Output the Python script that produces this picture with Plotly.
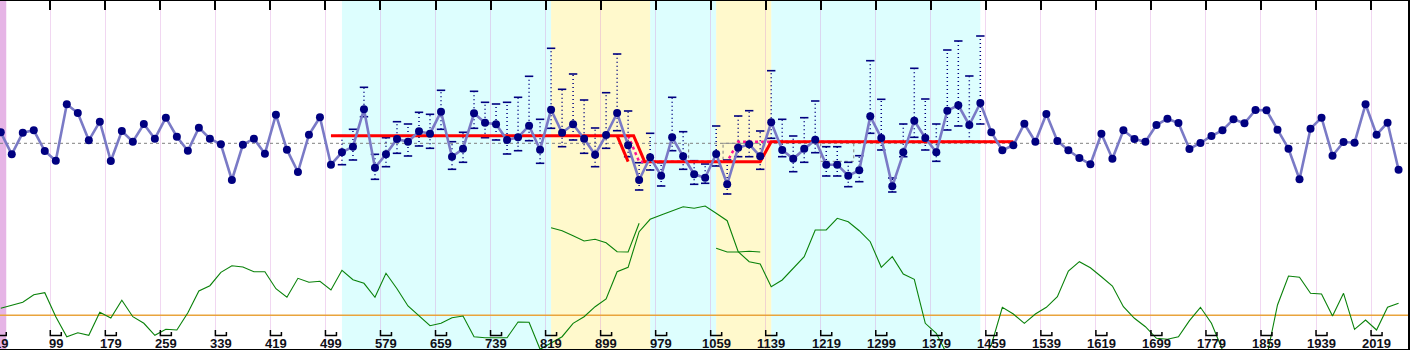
import plotly.graph_objects as go

# 16-year bins: centre of each bin
years = list(range(27, 2060, 16))

# main series (anomaly per bin)
values = [
    1.10, -1.10, 1.06, 1.30, -0.77, -1.74, 3.90, 3.03, 0.30, 2.16,
    -1.77, 1.23, 0.16, 1.93, 0.46, 2.56, 0.66, -0.74, 1.56, 0.46,
    -0.10, -3.67, -0.14, 0.46, -1.04, 2.86, -0.64, -2.87, 0.86, 2.60,
    -2.14, -0.90, -0.34, 3.40, -2.44, -1.10, 0.43, 0.16, 1.20, 0.96,
    3.16, -1.34, -0.54, 3.00, 2.06, 1.90, 0.33, 0.60, 1.76, -0.64,
    3.36, 1.06, 1.90, 0.46, -1.14, 0.83, 3.03, -0.20, -3.67, -1.40,
    -3.24, 0.60, -1.30, -3.10, -3.44, -1.07, -4.10, -0.44, -0.10, -1.30,
    2.10, -0.67, -1.54, -0.54, 0.36, -2.14, -2.14, -3.24, -2.70, 2.70,
    0.53, -4.30, -0.90, 2.26, 0.53, -0.90, 3.26, 3.80, 1.83, 4.03,
    1.10, -0.70, -0.20, 1.96, 0.16, 2.93, 0.23, -0.70, -1.47, -2.10,
    0.96, -1.54, 1.30, 0.43, 0.16, 1.83, 2.46, 2.03, -0.57, 0.03,
    0.73, 1.30, 2.40, 2.00, 3.33, 3.30, 1.36, -0.54, -3.60, 1.46,
    2.56, -1.24, 0.13, 0.06, 3.90, 0.86, 2.06, -2.64,
]

# spread of the bins inside the analysed window (bins 32..90)
err_years = years[31:90]
err_hi = [
    0.76, 1.40, 5.60, -1.10, 0.56, 2.16, 1.93, 3.10, 2.90, 5.30,
    0.16, 1.10, 5.20, 4.10, 3.93, 4.10, 4.60, 6.70, 2.40, 9.50,
    5.40, 6.93, 4.33, 1.53, 5.06, 8.93, 3.23, -1.94, 1.00, -1.94,
    4.60, 1.16, -1.74, -2.07, 1.73, -1.67, 2.73, 3.26, 1.23, 7.26,
    2.40, 0.73, 2.56, 4.23, -0.34, -0.34, -1.90, -1.24, 8.26, 4.40,
    -3.47, 1.93, 7.50, 4.43, 1.93, 9.33, 10.23, 6.73, 10.73,
]
err_lo = [
    -2.14, -1.67, 2.66, -3.60, -2.34, -1.00, -1.27, -0.27, -0.50, 1.40,
    -2.60, -1.90, 1.50, 0.56, 0.33, -1.07, -0.74, 0.26, -2.00, 1.50,
    -0.34, 0.33, -1.00, -2.34, -0.50, 1.26, -1.34, -4.67, -2.67, -4.27,
    -0.74, -2.60, -4.10, -4.00, -2.27, -5.07, -1.34, -1.34, -2.60, 0.50,
    -1.34, -2.84, -1.90, -0.94, -3.27, -3.27, -4.34, -3.84, 1.00, -0.67,
    -4.87, -1.34, 0.60, -0.67, -1.80, 1.33, 1.73, 0.20, 1.93,
]

# regime means
regime_x = [507, 947, 963, 1131, 1147, 1499]
regime_y = [0.76, 0.76, -1.84, -1.84, 0.16, 0.16]
shift_x = [923, 939]
shift_y = [0.76, -1.84]
trend_x = [939, 955, 1083, 1099, 1499]
trend_y = [0.76, -1.84, -1.84, 0.16, 0.16]

# test windows
box_a_x = [1027, 1027, 1077, 1077]
box_b_x = [1219, 1219, 1267, 1267]
box_y = [0.0, -1.80, -1.80, 0.0]

# index curve (lower panel)
index_main = [
    0.70, 1.00, 1.30, 2.06, 2.26, -0.14, -2.14, -1.74, -2.00, 0.30,
    -0.27, 1.50, -0.14, -0.80, -2.00, -1.40, -1.47, 0.26, 2.43, 2.96,
    4.30, 4.96, 4.83, 4.36, 4.36, 2.66, 1.80, 3.70, 3.30, 3.40,
    2.53, 4.50, 3.56, 3.20, 1.80, 4.20, 2.66, 0.93, -0.07, -1.04,
    -0.80, -0.24, -0.07, -2.14, -2.24, -2.27, -2.24, -0.67, -0.70, -3.40,
    -2.74, -2.14, -0.80, -0.14, 0.86, 1.63, 4.36, 4.80, 8.36, 9.60,
    10.03, 10.46, 10.86, 10.70, 10.93, 10.20, 9.46, 6.36, 5.36, 5.13,
    2.86, 3.53, 4.70, 5.86, 8.53, 8.53, 9.70, 9.36, 8.46, 7.36,
    4.80, 5.86, 4.13, 3.60, -0.80, -1.80, -3.97, -4.97, -5.47, -4.67,
    -2.97, 0.80, 0.13, -0.80, 0.13, 0.80, 1.86, 4.43, 5.36, 4.76,
    3.86, 2.93, 0.86, -0.30, -1.14, -2.30, -2.40, -2.14, -0.54, 0.80,
    -0.80, -3.47, -4.67, -5.47, -5.27, -4.27, 1.03, 3.93, 3.80, 2.20,
    2.13, -0.07, 2.20, -1.40, -0.47, -1.47, 0.80, 1.20,
]
index_alt1 = [8.76, 8.46, 7.96, 7.43, 7.60, 7.26, 6.36, 6.33, 9.20]
index_alt1_years = years[50:59]
index_alt2 = [6.70, 6.33, 6.33, 6.40, 6.33]
index_alt2_years = years[65:70]

tick_years = list(range(19, 2020, 80))
tick_labels = [str(t) for t in tick_years]

cyan_spans = [(523, 827), (971, 1067), (1147, 1451)]
yellow_spans = [(827, 971), (1067, 1147)]

PX_PER_YEAR = 0.6879
X0 = 25.9
PLOT_W = 1409
x_range = [X0, X0 + PLOT_W / PX_PER_YEAR]

fig = go.Figure()

# lower panel: zero line and index curves
fig.add_trace(go.Scatter(x=x_range, y=[0, 0], yaxis="y2", mode="lines",
                         line=dict(color="#e9a43c", width=1.5), hoverinfo="skip"))
fig.add_trace(go.Scatter(x=years, y=index_main, yaxis="y2", mode="lines",
                         line=dict(color="#0a820a", width=1.1), hoverinfo="skip"))
fig.add_trace(go.Scatter(x=index_alt1_years, y=index_alt1, yaxis="y2", mode="lines",
                         line=dict(color="#0a820a", width=1.1), hoverinfo="skip"))
fig.add_trace(go.Scatter(x=index_alt2_years, y=index_alt2, yaxis="y2", mode="lines",
                         line=dict(color="#0a820a", width=1.1), hoverinfo="skip"))

# long-term mean
fig.add_trace(go.Scatter(x=x_range, y=[0, 0], mode="lines",
                         line=dict(color="#808080", width=1, dash="3px,3px"), hoverinfo="skip"))
fig.add_trace(go.Scatter(x=box_a_x, y=box_y, mode="lines",
                         line=dict(color="#808080", width=1, dash="3px,3px"), hoverinfo="skip"))
fig.add_trace(go.Scatter(x=box_b_x, y=box_y, mode="lines",
                         line=dict(color="#808080", width=1, dash="3px,3px"), hoverinfo="skip"))
fig.add_trace(go.Scatter(x=[1077, 1131], y=[0, 0], mode="lines",
                         line=dict(color="#909090", width=1), hoverinfo="skip"))

# spread of each bin: dotted whiskers with caps
wx, wy = [], []
for x, hi, lo in zip(err_years, err_hi, err_lo):
    wx += [x, x, None]
    wy += [lo, hi, None]
fig.add_trace(go.Scatter(x=wx, y=wy, mode="lines",
                         line=dict(color="#000080", width=1.5, dash="1px,3px"), hoverinfo="skip"))
fig.add_trace(go.Scatter(x=err_years + err_years, y=err_hi + err_lo, mode="markers",
                         marker=dict(symbol="line-ew", size=6,
                                     line=dict(color="#000080", width=1.6)),
                         hoverinfo="skip"))

# regime means
fig.add_trace(go.Scatter(x=trend_x, y=trend_y, mode="lines",
                         line=dict(color="#ff1493", width=2.5, dash="dot"), hoverinfo="skip"))
fig.add_trace(go.Scatter(x=regime_x, y=regime_y, mode="lines",
                         line=dict(color="#ff0000", width=3), hoverinfo="skip"))
fig.add_trace(go.Scatter(x=shift_x, y=shift_y, mode="lines",
                         line=dict(color="#ff0000", width=3), hoverinfo="skip"))

# main series
fig.add_trace(go.Scatter(x=years, y=values, mode="lines+markers",
                         line=dict(color="#7a7ac6", width=2.6),
                         marker=dict(color="#000080", size=8), hoverinfo="skip"))

shapes = []
shapes.append(dict(type="rect", xref="x", yref="paper", x0=19, x1=35, y0=0, y1=1,
                   fillcolor="#e6b4e6", line=dict(width=0), layer="below"))
for a, b in cyan_spans:
    shapes.append(dict(type="rect", xref="x", yref="paper", x0=a, x1=b, y0=0, y1=1,
                       fillcolor="#ddfefe", line=dict(width=0), layer="below"))
for a, b in yellow_spans:
    shapes.append(dict(type="rect", xref="x", yref="paper", x0=a, x1=b, y0=0, y1=1,
                       fillcolor="#fff9cc", line=dict(width=0), layer="below"))

# bracket ticks along the bottom
def py(p):
    return 1 - p / 350.0

for t in tick_years:
    shapes.append(dict(type="path", xref="x", yref="paper",
                       path=f"M {t},{py(330)} L {t},{py(335.5)} L {t + 16},{py(335.5)} L {t + 16},{py(332)}",
                       line=dict(color="black", width=1.5)))

# frame
shapes.append(dict(type="line", xref="paper", yref="paper", x0=0, x1=1, y0=1, y1=1,
                   line=dict(color="black", width=2)))
shapes.append(dict(type="line", xref="paper", yref="paper", x0=0, x1=1, y0=0, y1=0,
                   line=dict(color="black", width=2)))
shapes.append(dict(type="line", xref="paper", yref="paper", x0=1, x1=1, y0=0, y1=1,
                   line=dict(color="black", width=2)))

annotations = [dict(x=t + 8, y=py(343.5), xref="x", yref="paper", text=lab,
                    showarrow=False, xanchor="center", yanchor="middle",
                    font=dict(family="Liberation Sans, Arial", size=13, color="#101018",
                              weight=600))
               for t, lab in zip(tick_years, tick_labels)]

fig.update_layout(
    width=1410, height=350,
    margin=dict(l=0, r=1, t=0, b=0),
    paper_bgcolor="white", plot_bgcolor="white",
    showlegend=False,
    shapes=shapes, annotations=annotations,
    xaxis=dict(range=x_range, side="top", tickvals=tick_years, showticklabels=False,
               ticks="inside", ticklen=10, tickwidth=1.5, tickcolor="black",
               showgrid=True, gridcolor="rgba(215,140,215,0.35)", gridwidth=1,
               zeroline=False, showline=False, fixedrange=True),
    yaxis=dict(range=[-20.67, 14.33], visible=False, fixedrange=True),
    yaxis2=dict(range=[-3.47, 31.53], overlaying="y", visible=False, fixedrange=True),
)

fig.write_html("out.html")
